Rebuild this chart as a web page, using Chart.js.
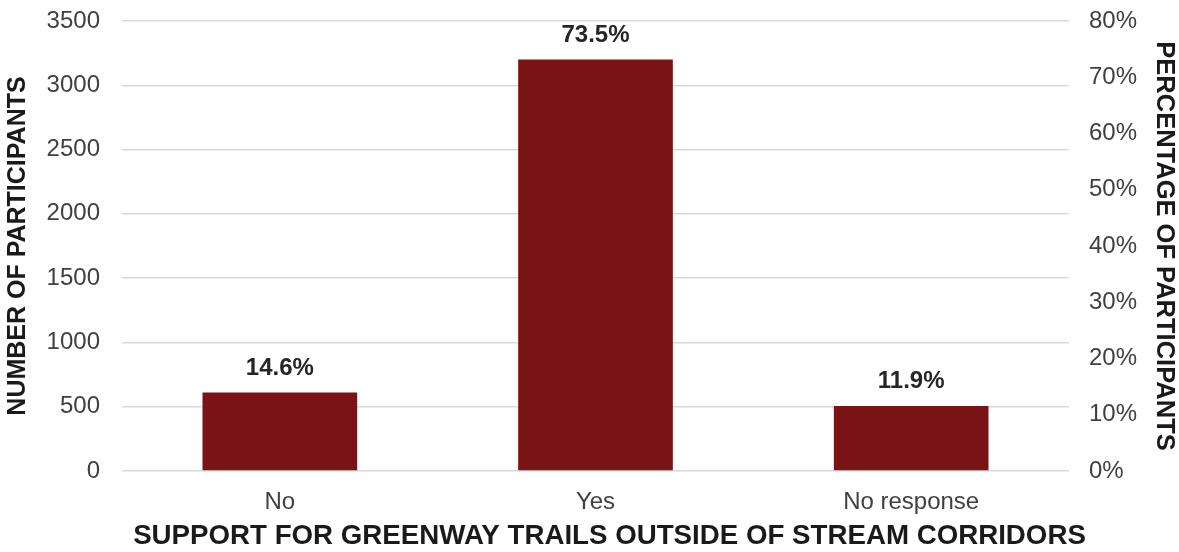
<!DOCTYPE html>
<html>
<head>
<meta charset="utf-8">
<script src="https://cdn.jsdelivr.net/npm/chart.js@4/dist/chart.umd.min.js"></script>
<style>
  html, body { margin: 0; padding: 0; background: #ffffff; }
  #wrap { width: 1179px; height: 552px; position: relative; }
</style>
</head>
<body>
<div id="wrap"><canvas id="c"></canvas></div>
<script>
const categories = ["No", "Yes", "No response"];
const participants = [610, 3200, 505];
const percentLabels = ["14.6%", "73.5%", "11.9%"];
const leftTicks = [0, 500, 1000, 1500, 2000, 2500, 3000, 3500];
const rightTicks = [0, 10, 20, 30, 40, 50, 60, 70, 80];
const xTitle = "SUPPORT FOR GREENWAY TRAILS OUTSIDE OF STREAM CORRIDORS";

const FONT = "'Liberation Sans', Arial, sans-serif";

const barLabels = {
  id: 'barLabels',
  afterDatasetsDraw(chart) {
    const ctx = chart.ctx;
    const meta = chart.getDatasetMeta(0);
    ctx.save();
    ctx.font = "bold 24px " + FONT;
    ctx.fillStyle = "#262626";
    ctx.textAlign = "center";
    ctx.textBaseline = "alphabetic";
    meta.data.forEach((bar, i) => {
      ctx.fillText(percentLabels[i], bar.x, bar.y - 18);
    });
    ctx.restore();
  }
};

const xAxisTitle = {
  id: 'xAxisTitle',
  afterDraw(chart) {
    const ctx = chart.ctx;
    const area = chart.chartArea;
    const xs = chart.scales.x;
    ctx.save();
    ctx.font = "bold 27.7px " + FONT;
    ctx.fillStyle = "#1a1a1a";
    ctx.textAlign = "center";
    ctx.textBaseline = "middle";
    ctx.fillText(xTitle, (area.left + area.right) / 2 + 14, xs.bottom - 16);
    ctx.restore();
  }
};

function noVertPad(axis) { axis.paddingTop = 0; axis.paddingBottom = 0; }

new Chart(document.getElementById('c'), {
  type: 'bar',
  data: {
    labels: categories,
    datasets: [{
      data: participants,
      backgroundColor: '#7a1315',
      borderWidth: 0,
      categoryPercentage: 1.0,
      barPercentage: 0.49,
      yAxisID: 'y'
    }]
  },
  options: {
    responsive: true,
    maintainAspectRatio: false,
    animation: false,
    layout: { padding: { top: 21, left: 0, right: 0, bottom: 0 } },
    plugins: { legend: { display: false }, tooltip: { enabled: false } },
    scales: {
      x: {
        grid: { display: false, drawTicks: false },
        border: { display: false },
        ticks: { color: '#404040', font: { family: FONT, size: 24 }, padding: 17 },
        afterFit(axis) { axis.height = 81; axis.paddingLeft = 0; axis.paddingRight = 0; },
        title: { display: false }
      },
      y: {
        position: 'left',
        min: 0, max: 3500,
        afterBuildTicks(axis) { axis.ticks = leftTicks.map(v => ({ value: v })); },
        afterFit(axis) { axis.width = 122; noVertPad(axis); },
        grid: { color: '#d9d9d9', lineWidth: 1.5, drawTicks: false },
        border: { display: false },
        ticks: { color: '#404040', font: { family: FONT, size: 24 }, padding: 22,
                 callback: v => String(v) },
        title: {
          display: true,
          text: 'NUMBER OF PARTICIPANTS',
          color: '#1a1a1a',
          font: { family: FONT, size: 25, weight: 'bold' },
          padding: { top: 3, bottom: 0 }
        }
      },
      y2: {
        position: 'right',
        min: 0, max: 80,
        afterBuildTicks(axis) { axis.ticks = rightTicks.map(v => ({ value: v })); },
        afterFit(axis) { axis.width = 110; noVertPad(axis); },
        grid: { display: false, drawTicks: false },
        border: { display: false },
        ticks: { color: '#404040', font: { family: FONT, size: 24 }, padding: 20,
                 callback: v => v + '%' },
        title: {
          display: true,
          text: 'PERCENTAGE OF PARTICIPANTS',
          color: '#1a1a1a',
          font: { family: FONT, size: 25.5, weight: 'bold' },
          padding: { top: 0, bottom: 3 }
        }
      }
    }
  },
  plugins: [barLabels, xAxisTitle]
});
</script>
</body>
</html>
